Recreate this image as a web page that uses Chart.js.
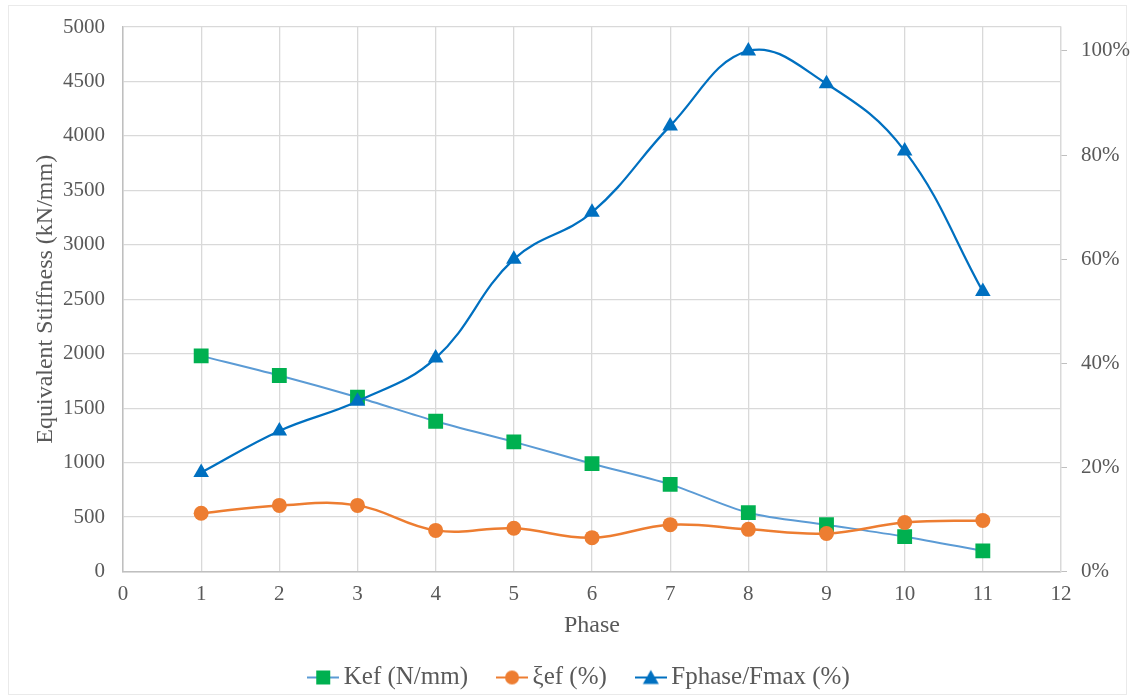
<!DOCTYPE html>
<html>
<head>
<meta charset="utf-8">
<script src="https://cdn.jsdelivr.net/npm/chart.js@4.4.1/dist/chart.umd.min.js"></script>
<style>
  html, body { margin: 0; padding: 0; background: #ffffff; }
  #wrap { width: 1135px; height: 700px; position: relative; }
</style>
</head>
<body>
<div id="wrap"><canvas id="chart" width="1135" height="700"></canvas></div>
<script>
// Test phases and measured quantities
const phases = [1, 2, 3, 4, 5, 6, 7, 8, 9, 10, 11];
const kefValues = [1980, 1800, 1600, 1380, 1190, 990, 800, 540, 430, 320, 190];
const xiEfValues = [0.112, 0.127, 0.127, 0.079, 0.083, 0.065, 0.090, 0.081, 0.073, 0.094, 0.098];
const forceRatioValues = [0.19, 0.27, 0.327, 0.41, 0.60, 0.69, 0.856, 1.00, 0.937, 0.808, 0.538];

// Axis ticks
const phaseTicks = [0, 1, 2, 3, 4, 5, 6, 7, 8, 9, 10, 11, 12];
const stiffnessTicks = [0, 500, 1000, 1500, 2000, 2500, 3000, 3500, 4000, 4500, 5000];
const percentTicks = [0, 0.2, 0.4, 0.6, 0.8, 1.0];

const seriesLabels = ['Kef (N/mm)', 'ξef (%)', 'Fphase/Fmax (%)'];

const FONT = '"Liberation Serif", "Times New Roman", serif';
const TICK_COLOR = '#595959';
const GRID_COLOR = '#D9D9D9';
const AXIS_COLOR = '#BFBFBF';
const PLOT_TOP = 27;
const PLOT_BOTTOM = 571.5;

const toPoints = (vals) => vals.map((v, i) => ({ x: phases[i], y: v }));

// Legend swatch: a short line with the series marker on it
function legendIcon(lineColor, markerColor, shape) {
  const c = document.createElement('canvas');
  c.width = 32; c.height = 18;
  const g = c.getContext('2d');
  g.strokeStyle = lineColor;
  g.lineWidth = 2;
  g.beginPath(); g.moveTo(0, 9); g.lineTo(32, 9); g.stroke();
  g.fillStyle = markerColor;
  g.beginPath();
  if (shape === 'rect') {
    g.rect(9, 2, 14, 14);
  } else if (shape === 'circle') {
    g.arc(16, 9, 7, 0, Math.PI * 2);
  } else {
    g.moveTo(16, 1.5); g.lineTo(24, 15.5); g.lineTo(8, 15.5); g.closePath();
  }
  g.fill();
  return c;
}

const icons = [
  legendIcon('#5B9BD5', '#00B050', 'rect'),
  legendIcon('#ED7D31', '#ED7D31', 'circle'),
  legendIcon('#0070C0', '#0070C0', 'triangle')
];

const fixedTicks = (list) => function (axis) {
  axis.ticks = list.map(v => ({ value: v }));
};

// keep tick labels from pushing the plot area inwards
const noLabelPadding = (scale) => {
  scale.paddingTop = 0;
  scale.paddingBottom = 0;
  scale.paddingLeft = 0;
  scale.paddingRight = 0;
};

const background = {
  id: 'background',
  afterLayout(chart) {
    // nudge the legend row to the right
    if (chart.legend) {
      chart.legend.left += 15;
      chart.legend.right += 15;
    }
  },
  beforeDraw(chart) {
    const ctx = chart.ctx;
    ctx.save();
    ctx.fillStyle = '#ffffff';
    ctx.fillRect(0, 0, chart.width, chart.height);
    ctx.strokeStyle = '#EAEAEA';
    ctx.lineWidth = 1;
    ctx.strokeRect(8.5, 5.5, chart.width - 17, chart.height - 11);
    ctx.restore();
  }
};

new Chart(document.getElementById('chart'), {
  type: 'line',
  data: {
    datasets: [
      {
        label: seriesLabels[0],
        data: toPoints(kefValues),
        yAxisID: 'yLeft',
        borderColor: '#5B9BD5',
        borderWidth: 2,
        backgroundColor: '#00B050',
        pointStyle: 'rect',
        pointRadius: 10.5,
        pointBorderWidth: 0,
        pointBackgroundColor: '#00B050',
        tension: 0.3,
        order: 3
      },
      {
        label: seriesLabels[1],
        data: toPoints(xiEfValues),
        yAxisID: 'yRight',
        borderColor: '#ED7D31',
        borderWidth: 2.5,
        backgroundColor: '#ED7D31',
        pointStyle: 'circle',
        pointRadius: 7.5,
        pointBorderWidth: 0,
        pointBackgroundColor: '#ED7D31',
        tension: 0.4,
        order: 2
      },
      {
        label: seriesLabels[2],
        data: toPoints(forceRatioValues),
        yAxisID: 'yRight',
        borderColor: '#0070C0',
        borderWidth: 2.25,
        backgroundColor: '#0070C0',
        pointStyle: 'triangle',
        pointRadius: 9,
        pointBorderWidth: 0,
        pointBackgroundColor: '#0070C0',
        tension: 0.4,
        order: 1
      }
    ]
  },
  options: {
    responsive: false,
    animation: false,
    devicePixelRatio: 1,
    layout: { padding: { top: PLOT_TOP, left: 0, right: 0, bottom: 0 } },
    plugins: {
      tooltip: { enabled: false },
      legend: {
        position: 'bottom',
        labels: {
          font: { family: FONT, size: 25 },
          color: TICK_COLOR,
          usePointStyle: true,
          pointStyleWidth: 16,
          padding: 36,
          generateLabels(chart) {
            return chart.data.datasets.map((ds, i) => ({
              text: ds.label,
              pointStyle: icons[i],
              fillStyle: ds.backgroundColor,
              strokeStyle: ds.borderColor,
              lineWidth: 0,
              fontColor: TICK_COLOR,
              hidden: false,
              datasetIndex: i
            }));
          }
        }
      }
    },
    scales: {
      x: {
        type: 'linear',
        min: 0,
        max: 12,
        afterBuildTicks: fixedTicks(phaseTicks),
        afterFit(scale) {
          noLabelPadding(scale);
          const legendH = scale.chart.legend ? scale.chart.legend.height : 0;
          scale.height = scale.chart.height - PLOT_BOTTOM - legendH;
        },
        grid: { color: GRID_COLOR, drawTicks: false, lineWidth: 1.3 },
        border: { color: AXIS_COLOR, width: 1.5 },
        ticks: { font: { family: FONT, size: 21 }, color: TICK_COLOR, padding: 10 },
        title: {
          display: true,
          text: 'Phase',
          font: { family: FONT, size: 24 },
          color: TICK_COLOR,
          padding: { top: 0, bottom: -11 }
        }
      },
      yLeft: {
        type: 'linear',
        position: 'left',
        min: 0,
        max: 5000,
        afterBuildTicks: fixedTicks(stiffnessTicks),
        afterFit(scale) { noLabelPadding(scale); scale.width = 123; },
        grid: { color: GRID_COLOR, drawTicks: false, lineWidth: 1.3 },
        border: { color: AXIS_COLOR, width: 1.5 },
        ticks: {
          font: { family: FONT, size: 21 },
          color: TICK_COLOR,
          padding: 18,
          callback: (v) => String(v)
        },
        title: {
          display: true,
          text: 'Equivalent Stiffness (kN/mm)',
          font: { family: FONT, size: 24 },
          color: TICK_COLOR,
          padding: { top: 31, bottom: 0 }
        }
      },
      yRight: {
        type: 'linear',
        position: 'right',
        min: 0,
        max: 1.046,
        afterBuildTicks: fixedTicks(percentTicks),
        afterFit(scale) { noLabelPadding(scale); scale.width = 74; },
        grid: { drawOnChartArea: false, color: AXIS_COLOR, tickLength: 6 },
        border: { color: GRID_COLOR, width: 1.3 },
        ticks: {
          font: { family: FONT, size: 21 },
          color: TICK_COLOR,
          padding: 14,
          callback: (v) => Math.round(v * 100) + '%'
        }
      }
    }
  },
  plugins: [background]
});
</script>
</body>
</html>
